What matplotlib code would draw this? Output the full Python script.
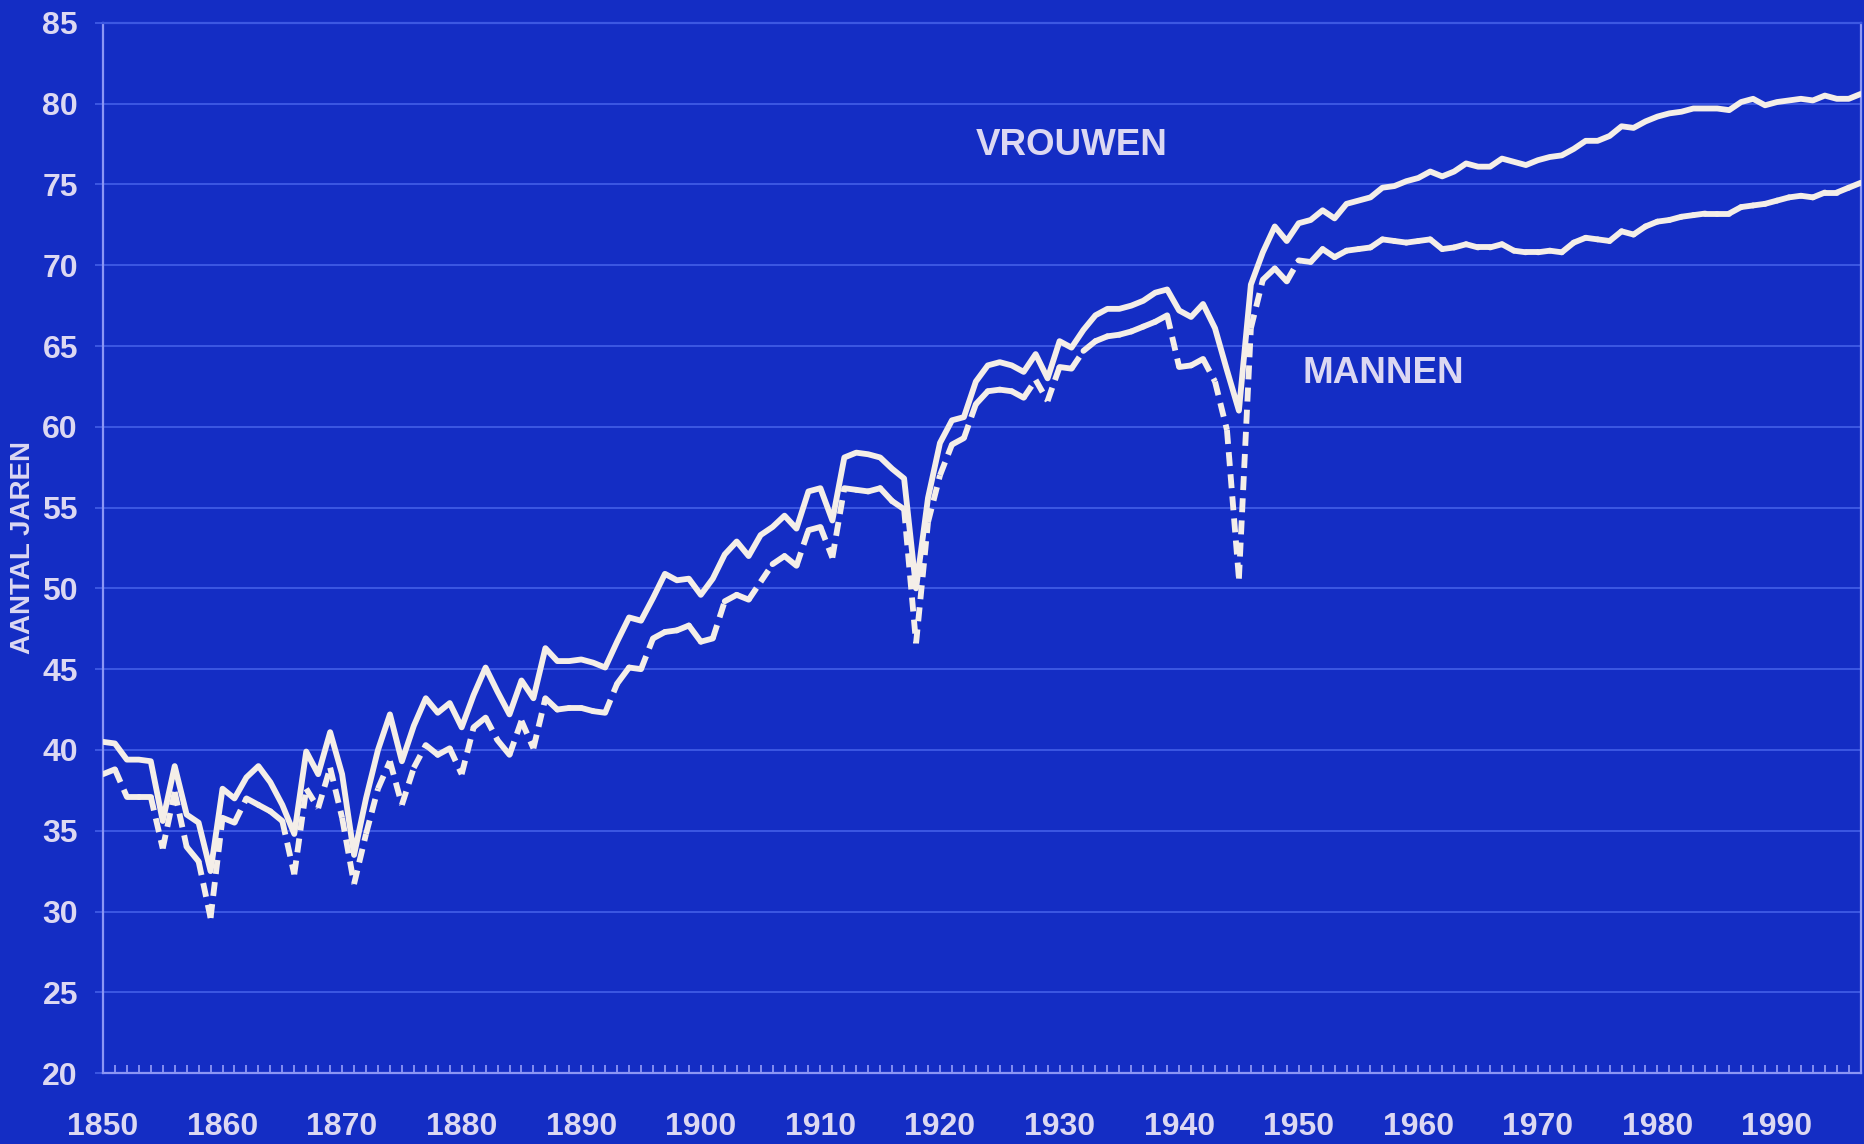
import matplotlib
matplotlib.use('Agg')
import matplotlib.pyplot as plt
import numpy as np

# levensverwachting bij geboorte
jaren = np.arange(1850, 1998)

vrouwen = [
    40.5, 40.4, 39.4, 39.4, 39.3, 35.6, 39.0, 36.0, 35.5, 32.5,   # 1850-59
    37.6, 37.0, 38.3, 39.0, 38.0, 36.6, 34.8, 39.9, 38.5, 41.1,   # 1860-69
    38.5, 33.5, 37.0, 40.0, 42.2, 39.3, 41.5, 43.2, 42.3, 42.9,   # 1870-79
    41.4, 43.4, 45.1, 43.6, 42.2, 44.3, 43.2, 46.3, 45.5, 45.5,   # 1880-89
    45.6, 45.4, 45.1, 46.7, 48.2, 48.0, 49.4, 50.9, 50.5, 50.6,   # 1890-99
    49.6, 50.6, 52.1, 52.9, 52.0, 53.3, 53.8, 54.5, 53.7, 56.0,   # 1900-09
    56.2, 54.2, 58.1, 58.4, 58.3, 58.1, 57.4, 56.8, 50.0, 55.6,   # 1910-19
    59.0, 60.4, 60.6, 62.8, 63.8, 64.0, 63.8, 63.4, 64.5, 63.0,   # 1920-29
    65.3, 64.9, 66.0, 66.9, 67.3, 67.3, 67.5, 67.8, 68.3, 68.5,   # 1930-39
    67.2, 66.8, 67.6, 66.1, 63.5, 61.0, 68.8, 70.8, 72.4, 71.5,   # 1940-49
    72.6, 72.8, 73.4, 72.9, 73.8, 74.0, 74.2, 74.8, 74.9, 75.2,   # 1950-59
    75.4, 75.8, 75.5, 75.8, 76.3, 76.1, 76.1, 76.6, 76.4, 76.2,   # 1960-69
    76.5, 76.7, 76.8, 77.2, 77.7, 77.7, 78.0, 78.6, 78.5, 78.9,   # 1970-79
    79.2, 79.4, 79.5, 79.7, 79.7, 79.7, 79.6, 80.1, 80.3, 79.9,   # 1980-89
    80.1, 80.2, 80.3, 80.2, 80.5, 80.3, 80.3, 80.6,               # 1990-97
]

mannen = [
    38.5, 38.8, 37.1, 37.1, 37.1, 33.9, 37.4, 34.0, 33.1, 29.6,
    35.8, 35.5, 37.0, 36.6, 36.2, 35.6, 32.3, 37.6, 36.4, 38.9,
    35.8, 31.7, 34.8, 37.6, 39.3, 36.6, 38.9, 40.3, 39.7, 40.1,
    38.5, 41.4, 42.0, 40.6, 39.7, 41.8, 40.1, 43.2, 42.5, 42.6,
    42.6, 42.4, 42.3, 44.1, 45.1, 45.0, 46.9, 47.3, 47.4, 47.7,
    46.7, 46.9, 49.2, 49.6, 49.3, 50.4, 51.5, 52.0, 51.4, 53.6,
    53.8, 51.9, 56.2, 56.1, 56.0, 56.2, 55.4, 54.9, 46.6, 54.1,
    57.0, 58.9, 59.3, 61.4, 62.2, 62.3, 62.2, 61.8, 62.9, 61.6,
    63.7, 63.6, 64.7, 65.3, 65.6, 65.7, 65.9, 66.2, 66.5, 66.9,
    63.7, 63.8, 64.2, 62.8, 59.8, 50.6, 66.1, 69.1, 69.8, 69.0,
    70.3, 70.2, 71.0, 70.5, 70.9, 71.0, 71.1, 71.6, 71.5, 71.4,
    71.5, 71.6, 71.0, 71.1, 71.3, 71.1, 71.1, 71.3, 70.9, 70.8,
    70.8, 70.9, 70.8, 71.4, 71.7, 71.6, 71.5, 72.1, 71.9, 72.4,
    72.7, 72.8, 73.0, 73.1, 73.2, 73.2, 73.2, 73.6, 73.7, 73.8,
    74.0, 74.2, 74.3, 74.2, 74.5, 74.5, 74.8, 75.1,
]

y_ticks = list(range(20, 90, 5))
x_ticks = list(range(1850, 2000, 10))

BG = '#142dc4'
GRID = '#3d58e2'
SPINE = '#8c96f4'
TEXT = '#dcd8f2'
LINE = '#f4eee8'
LW = 4.2


def main():
    assert len(vrouwen) == len(jaren) and len(mannen) == len(jaren)

    fig = plt.figure(figsize=(18.65, 11.44), dpi=100, facecolor=BG)
    ax = fig.add_axes([0.0552, 0.062, 0.9425, 0.918])
    ax.set_facecolor(BG)

    # vrouwen: doorgetrokken lijn
    ax.plot(jaren, vrouwen, color=LINE, lw=LW, solid_joinstyle='round',
            solid_capstyle='round', zorder=3)

    # mannen: steile stukken gestreept, vlakke stukken doorgetrokken
    for i in range(len(jaren) - 1):
        steil = abs(mannen[i + 1] - mannen[i]) > 1.0
        if steil:
            ax.plot(jaren[i:i + 2], mannen[i:i + 2], color=LINE, lw=LW,
                    ls=(0, (2.4, 1.4)), dash_capstyle='butt', zorder=3)
        else:
            ax.plot(jaren[i:i + 2], mannen[i:i + 2], color=LINE, lw=LW,
                    solid_capstyle='round', zorder=3)

    ax.set_xlim(1850, 1997)
    ax.set_ylim(20, 85)
    ax.set_yticks(y_ticks)
    ax.set_xticks(x_ticks)
    ax.set_xticks(jaren, minor=True)

    ax.yaxis.grid(True, color=GRID, lw=1.4)
    ax.set_axisbelow(True)

    for s in ax.spines.values():
        s.set_color(SPINE)
        s.set_linewidth(1.6)
    ax.spines['top'].set_color(GRID)

    ax.tick_params(axis='x', which='both', direction='in', length=6,
                   width=1.3, color=SPINE, pad=28)
    ax.tick_params(axis='y', direction='out', length=6, width=1.4,
                   color=GRID, pad=12)
    for lab in ax.get_xticklabels() + ax.get_yticklabels():
        lab.set_fontfamily('Liberation Sans')
        lab.set_fontweight('bold')
        lab.set_fontsize(23)
        lab.set_color(TEXT)

    ax.set_ylabel('AANTAL JAREN', fontfamily='Liberation Sans',
                  fontweight='bold', fontsize=20, color=TEXT)
    ax.yaxis.set_label_coords(-0.038, 0.5)

    ax.text(1931, 77.4, 'VROUWEN', ha='center', va='center', color=TEXT,
            fontfamily='Liberation Sans', fontweight='bold', fontsize=26.5)
    ax.text(1957.1, 63.3, 'MANNEN', ha='center', va='center', color=TEXT,
            fontfamily='Liberation Sans', fontweight='bold', fontsize=26.5)

    fig.savefig('out.png', dpi=100, facecolor=BG)


if __name__ == '__main__':
    main()
